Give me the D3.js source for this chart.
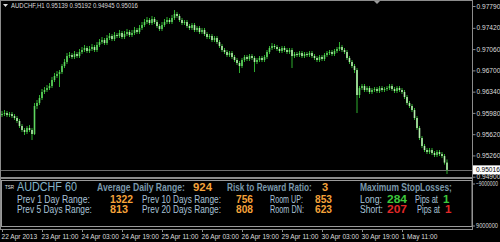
<!DOCTYPE html>
<meta charset="utf-8">
<script src="https://d3js.org/d3.v7.min.js"></script>
<style>
  body { margin: 0; background: #000; }
  svg { display: block; }
  text { font-family: 'Liberation Sans', Arial, sans-serif; }
</style>
<div id="chart"></div>
<script>

// ---------- data: AUDCHF H1, one value per bar, from 22 Apr 2013 19:00 ----------
const opens = [0.95944,0.95961,0.95978,0.95944,0.95961,0.95927,0.95894,0.95843,0.95758,0.95691,
  0.95657,0.95724,0.95691,0.95623,0.96097,0.96148,0.96232,0.96334,0.96368,0.96401,
  0.96435,0.96537,0.96605,0.96638,0.96672,0.96774,0.96842,0.96943,0.96960,0.96927,
  0.96977,0.96943,0.97011,0.97045,0.97079,0.97028,0.97062,0.97096,0.97045,0.97130,
  0.97180,0.97214,0.97163,0.97248,0.97282,0.97231,0.97299,0.97282,0.97333,0.97265,
  0.97316,0.97350,0.97299,0.97333,0.97384,0.97350,0.97418,0.97468,0.97519,0.97553,
  0.97502,0.97570,0.97519,0.97451,0.97401,0.97468,0.97519,0.97553,0.97519,0.97587,
  0.97655,0.97621,0.97553,0.97502,0.97519,0.97451,0.97418,0.97468,0.97384,0.97418,
  0.97350,0.97384,0.97316,0.97265,0.97282,0.97214,0.97248,0.97180,0.97113,0.97045,
  0.97011,0.96960,0.96994,0.96927,0.96876,0.96825,0.96774,0.96876,0.96927,0.96893,
  0.96943,0.96910,0.96842,0.96876,0.96910,0.96876,0.96927,0.97011,0.97079,0.97113,
  0.97096,0.97062,0.97028,0.97079,0.97045,0.97011,0.97045,0.96943,0.96977,0.96960,
  0.96994,0.96943,0.96977,0.96960,0.96994,0.96943,0.96910,0.96876,0.96927,0.96893,
  0.96960,0.96994,0.97011,0.96977,0.97028,0.97062,0.97096,0.97045,0.97011,0.96910,
  0.96842,0.96774,0.96706,0.96283,0.96401,0.96435,0.96368,0.96401,0.96334,0.96368,
  0.96384,0.96351,0.96401,0.96368,0.96384,0.96401,0.96435,0.96384,0.96351,0.96401,
  0.96368,0.96334,0.96249,0.96148,0.96097,0.96029,0.95894,0.95724,0.95555,0.95420,
  0.95352,0.95318,0.95352,0.95301,0.95267,0.95318,0.95284,0.95250,0.95139];
const highs = [0.96012,0.96029,0.96012,0.95995,0.95995,0.95961,0.95927,0.95877,0.95792,0.95724,
  0.95758,0.95775,0.95724,0.96148,0.96199,0.96283,0.96385,0.96418,0.96452,0.96486,
  0.96588,0.96656,0.96689,0.96706,0.96808,0.96893,0.96994,0.97011,0.96994,0.97028,
  0.97011,0.97062,0.97096,0.97130,0.97113,0.97113,0.97147,0.97130,0.97180,0.97231,
  0.97265,0.97248,0.97299,0.97333,0.97316,0.97350,0.97333,0.97384,0.97367,0.97367,
  0.97401,0.97384,0.97384,0.97435,0.97418,0.97468,0.97519,0.97570,0.97604,0.97587,
  0.97621,0.97604,0.97553,0.97485,0.97519,0.97570,0.97604,0.97587,0.97638,0.97722,
  0.97689,0.97655,0.97587,0.97553,0.97553,0.97485,0.97502,0.97502,0.97451,0.97451,
  0.97418,0.97418,0.97350,0.97316,0.97316,0.97282,0.97282,0.97214,0.97147,0.97079,
  0.97045,0.97028,0.97028,0.96960,0.96910,0.96859,0.96910,0.96960,0.96960,0.96977,
  0.96977,0.96943,0.96910,0.96943,0.96943,0.96960,0.97045,0.97113,0.97163,0.97147,
  0.97130,0.97096,0.97113,0.97113,0.97079,0.97079,0.97079,0.97011,0.97011,0.97028,
  0.97028,0.97011,0.97011,0.97028,0.97028,0.96977,0.96943,0.96960,0.96960,0.96994,
  0.97028,0.97045,0.97045,0.97062,0.97096,0.97180,0.97130,0.97079,0.97045,0.96943,
  0.96876,0.96808,0.96740,0.96435,0.96469,0.96469,0.96435,0.96435,0.96401,0.96418,
  0.96418,0.96435,0.96435,0.96418,0.96435,0.96469,0.96469,0.96418,0.96435,0.96435,
  0.96401,0.96368,0.96283,0.96182,0.96131,0.96063,0.95927,0.95758,0.95589,0.95454,
  0.95386,0.95386,0.95386,0.95335,0.95352,0.95352,0.95318,0.95284,0.95192];
const lows = [0.95910,0.95927,0.95910,0.95910,0.95894,0.95860,0.95809,0.95724,0.95657,0.95606,
  0.95623,0.95657,0.95521,0.95606,0.96046,0.96114,0.96199,0.96300,0.96334,0.96368,
  0.96401,0.96503,0.96571,0.96418,0.96638,0.96740,0.96808,0.96910,0.96893,0.96893,
  0.96910,0.96910,0.96977,0.97011,0.96994,0.96994,0.97028,0.97011,0.97011,0.97096,
  0.97147,0.97130,0.97130,0.97214,0.97197,0.97197,0.97248,0.97248,0.97231,0.97231,
  0.97282,0.97265,0.97265,0.97299,0.97316,0.97316,0.97384,0.97435,0.97485,0.97468,
  0.97468,0.97485,0.97418,0.97367,0.97367,0.97435,0.97485,0.97485,0.97485,0.97553,
  0.97587,0.97519,0.97468,0.97468,0.97418,0.97384,0.97384,0.97350,0.97350,0.97316,
  0.97316,0.97282,0.97231,0.97231,0.97180,0.97180,0.97147,0.97079,0.97011,0.96977,
  0.96927,0.96927,0.96893,0.96842,0.96791,0.96655,0.96740,0.96842,0.96859,0.96859,
  0.96876,0.96672,0.96808,0.96842,0.96842,0.96842,0.96893,0.96977,0.97045,0.97062,
  0.97028,0.96994,0.96994,0.97011,0.96977,0.96977,0.96740,0.96910,0.96927,0.96927,
  0.96910,0.96910,0.96927,0.96927,0.96910,0.96876,0.96842,0.96842,0.96859,0.96859,
  0.96927,0.96960,0.96943,0.96943,0.96994,0.97028,0.97011,0.96977,0.96876,0.96808,
  0.96740,0.96655,0.95978,0.96232,0.96368,0.96334,0.96334,0.96300,0.96300,0.96334,
  0.96317,0.96317,0.96334,0.96334,0.96351,0.96368,0.96351,0.96317,0.96317,0.96334,
  0.96300,0.96215,0.96114,0.96063,0.95995,0.95860,0.95691,0.95521,0.95386,0.95318,
  0.95284,0.95284,0.95267,0.95233,0.95233,0.95250,0.95216,0.95105,0.94945];
const closes = [0.95961,0.95978,0.95944,0.95961,0.95927,0.95894,0.95843,0.95758,0.95691,0.95657,
  0.95724,0.95691,0.95623,0.96097,0.96148,0.96232,0.96334,0.96368,0.96401,0.96435,
  0.96537,0.96605,0.96638,0.96672,0.96774,0.96842,0.96943,0.96960,0.96927,0.96977,
  0.96943,0.97011,0.97045,0.97079,0.97028,0.97062,0.97096,0.97045,0.97130,0.97180,
  0.97214,0.97163,0.97248,0.97282,0.97231,0.97299,0.97282,0.97333,0.97265,0.97316,
  0.97350,0.97299,0.97333,0.97384,0.97350,0.97418,0.97468,0.97519,0.97553,0.97502,
  0.97570,0.97519,0.97451,0.97401,0.97468,0.97519,0.97553,0.97519,0.97587,0.97655,
  0.97621,0.97553,0.97502,0.97519,0.97451,0.97418,0.97468,0.97384,0.97418,0.97350,
  0.97384,0.97316,0.97265,0.97282,0.97214,0.97248,0.97180,0.97113,0.97045,0.97011,
  0.96960,0.96994,0.96927,0.96876,0.96825,0.96774,0.96876,0.96927,0.96893,0.96943,
  0.96910,0.96842,0.96876,0.96910,0.96876,0.96927,0.97011,0.97079,0.97113,0.97096,
  0.97062,0.97028,0.97079,0.97045,0.97011,0.97045,0.96943,0.96977,0.96960,0.96994,
  0.96943,0.96977,0.96960,0.96994,0.96943,0.96910,0.96876,0.96927,0.96893,0.96960,
  0.96994,0.97011,0.96977,0.97028,0.97062,0.97096,0.97045,0.97011,0.96910,0.96842,
  0.96774,0.96706,0.96283,0.96401,0.96435,0.96368,0.96401,0.96334,0.96368,0.96384,
  0.96351,0.96401,0.96368,0.96384,0.96401,0.96435,0.96384,0.96351,0.96401,0.96368,
  0.96334,0.96249,0.96148,0.96097,0.96029,0.95894,0.95724,0.95555,0.95420,0.95352,
  0.95318,0.95352,0.95301,0.95267,0.95318,0.95284,0.95250,0.95139,0.95016];

// axis labels
const priceTicks = [0.97790, 0.97420, 0.97060, 0.96700, 0.96340, 0.95980, 0.95620, 0.95260, 0.94900];
const timeTickBars = [0, 16, 32, 48, 64, 80, 96, 112, 128, 144, 160];
const timeTickLabels = ["22 Apr 2013", "23 Apr 11:00", "24 Apr 03:00", "24 Apr 19:00", "25 Apr 11:00",
  "26 Apr 03:00", "26 Apr 19:00", "29 Apr 11:00", "30 Apr 03:00", "30 Apr 19:00", "1 May 11:00"];
const indicatorTicks = [-9000000, 9000000];

// TSR panel values
const symbol = "AUDCHF", period = 60, timeframe = "H1";
const avgDailyRange = 924, riskReward = 3;
const rangeLabels = ["Prev 1 Day Range:", "Prev 5 Days Range:", "Prev 10 Days Range:", "Prev 20 Days Range:"];
const rangeValues = [1322, 813, 756, 808];
const roomLabels = ["Room UP:", "Room DN:"];
const roomValues = [853, 623];
const stopLabels = ["Long:", "Short:"];
const stopValues = [284, 207];
const stopPipsAt = [1, 1];

// ---------- layout ----------
const W = 500, H = 242;
const axisX = 472, mainBottom = 177, indBottom = 229;
const frame = "#8c8c8c", labelColor = "#dcdcdc";

const svg = d3.select("#chart").append("svg")
  .attr("width", W).attr("height", H)
  .style("background", "#000");

const x = d3.scaleLinear().domain([-0.8, 188]).range([0, axisX]);
const y = d3.scaleLinear().domain([0.94900, 0.97790]).range([176.7, 6]);

// text squeezed horizontally to a given width (the MT4 font is narrow)
function put(g, tx, ty, str, color, size, bold, len) {
  const t = g.append("text").attr("x", 0).attr("y", 0)
    .attr("fill", color).attr("font-size", size)
    .attr("font-weight", bold ? "bold" : "normal").text(str);
  const sx = len ? len / t.node().getComputedTextLength() : 1;
  t.attr("transform", `translate(${tx},${ty}) scale(${sx},1)`);
  return t;
}

// clip for price pane
svg.append("clipPath").attr("id", "mainClip")
  .append("rect").attr("x", 1).attr("y", 1).attr("width", axisX - 1).attr("height", mainBottom - 1);

// ---------- candles ----------
const n = closes.length;
const bars = svg.append("g").attr("clip-path", "url(#mainClip)");

// current price line
const last = closes[n - 1];
bars.append("line")
  .attr("x1", 0).attr("x2", axisX)
  .attr("y1", Math.round(y(last)) + 0.5).attr("y2", Math.round(y(last)) + 0.5)
  .attr("stroke", "#6e6e6e");

const idx = d3.range(n);
bars.selectAll("line.wick").data(idx).enter().append("line")
  .attr("class", "wick")
  .attr("x1", i => x(i)).attr("x2", i => x(i))
  .attr("y1", i => y(highs[i])).attr("y2", i => y(lows[i]))
  .attr("stroke", "#2fae2f").attr("stroke-width", 1);

bars.selectAll("rect.body").data(idx).enter().append("rect")
  .attr("class", "body")
  .attr("x", i => x(i) - 0.8).attr("width", 1.6)
  .attr("y", i => y(Math.max(opens[i], closes[i])))
  .attr("height", i => Math.max(0.8, Math.abs(y(opens[i]) - y(closes[i]))))
  .attr("fill", i => closes[i] >= opens[i] ? "#5fd65f" : "#b4f0ac");

// ---------- frames ----------
svg.append("line").attr("x1", 0).attr("x2", axisX).attr("y1", 0.5).attr("y2", 0.5).attr("stroke", frame);
svg.append("line").attr("x1", 0.5).attr("x2", 0.5).attr("y1", 0).attr("y2", indBottom).attr("stroke", frame);
svg.append("rect").attr("x", 0).attr("y", mainBottom).attr("width", axisX).attr("height", 2).attr("fill", frame);

// shift marker
svg.append("path").attr("d", "M374,1 L380,1 L377,4 Z").attr("fill", "#9a9a9a");

// ---------- price axis ----------
const yAxis = svg.append("g")
  .attr("transform", `translate(${axisX + 0.5},0)`)
  .call(d3.axisRight(y).tickValues(priceTicks).tickFormat(d3.format(".5f")).tickSize(3).tickPadding(1));
yAxis.select(".domain").remove();
yAxis.selectAll("line").attr("stroke", frame);
yAxis.selectAll("text").attr("fill", labelColor).attr("font-size", 6.6).attr("font-family", "'Liberation Sans', Arial, sans-serif");

svg.append("line").attr("x1", axisX + 0.5).attr("x2", axisX + 0.5).attr("y1", 0).attr("y2", indBottom).attr("stroke", frame);

// current price tag
svg.append("rect").attr("x", axisX + 1).attr("y", y(last) - 4.5).attr("width", W - axisX - 1).attr("height", 9).attr("fill", "#fff");
svg.append("text").attr("x", axisX + 4).attr("y", y(last)).attr("dy", "0.33em")
  .attr("font-size", 6.6).attr("fill", "#000").text(d3.format(".5f")(last));

// header
svg.append("path").attr("d", "M3,4 L8,4 L5.5,7 Z").attr("fill", labelColor);
put(svg, 11, 8.3, `${symbol},${timeframe} ` + [opens[n - 1], highs[n - 1], lows[n - 1], closes[n - 1]].map(d3.format(".5f")).join(" "),
  labelColor, 6.6, false, 127);

// ---------- indicator pane ----------
const yi = d3.scaleLinear().domain([-9000000, 9000000]).range([184, 226]);
const iAxis = svg.append("g");
indicatorTicks.forEach(v => {
  iAxis.append("line").attr("x1", axisX).attr("x2", axisX + 3)
    .attr("y1", yi(v)).attr("y2", yi(v)).attr("stroke", frame);
  put(iAxis, axisX + 4, yi(v) + 2.3, d3.format("d")(v), labelColor, 6.6, false, 22);
});

// panel box
svg.append("rect").attr("x", 1.5).attr("y", 180.5).attr("width", axisX - 1.5).attr("height", 46)
  .attr("fill", "none").attr("stroke", "#9a9a9a");

// ---------- time axis ----------
svg.append("line").attr("x1", 0).attr("x2", axisX + 1).attr("y1", indBottom + 0.5).attr("y2", indBottom + 0.5).attr("stroke", frame);
const xAxis = svg.append("g")
  .attr("transform", `translate(0,${indBottom})`)
  .call(d3.axisBottom(x).tickValues(timeTickBars).tickFormat((d, i) => timeTickLabels[i]).tickSize(3).tickPadding(2));
xAxis.select(".domain").remove();
xAxis.selectAll("line").attr("stroke", frame);
xAxis.selectAll("text").attr("fill", labelColor).attr("font-size", 6.6)
  .attr("text-anchor", "start").attr("dx", -1)
  .attr("font-family", "'Liberation Sans', Arial, sans-serif");

// ---------- TSR panel text ----------
const cTitle = "#86b4c8", cHead = "#7b98ab", cLabel = "#a9c3d9", cOrange = "#f5a33a", cGreen = "#3cc83c", cRed = "#e02828";
const panel = svg.append("g");
const r1 = 190.5, r2 = 202.5, r3 = 212.5;
put(panel, 5, 188.5, "TSR", "#e8e8e8", 6, false, 9);
put(panel, 17, r1, `${symbol} ${period}`, cTitle, 13, false, 60);
put(panel, 97, r1, "Average Daily Range:", cHead, 10, true, 88);
put(panel, 193, r1, avgDailyRange, cOrange, 11, true, 19);
put(panel, 227, r1, "Risk to Reward Ratio:", cHead, 10, true, 85);
put(panel, 322, r1, riskReward, cOrange, 11, true);
put(panel, 360, r1, "Maximum StopLosses;", cHead, 10, true, 92);

[r2, r3].forEach((ry, k) => {
  put(panel, 17, ry, rangeLabels[k], cLabel, 10, false, k ? 75 : 73);
  put(panel, 110, ry + 0.5, rangeValues[k], cOrange, 11.5, true, k ? 18 : 23);
  put(panel, 142, ry, rangeLabels[k + 2], cLabel, 10, false, 79);
  put(panel, 236, ry + 0.5, rangeValues[k + 2], cOrange, 11.5, true, 17);
  put(panel, 270, ry, roomLabels[k], cLabel, 10, false, k ? 34 : 33);
  put(panel, 315, ry + 0.5, roomValues[k], cOrange, 11.5, true, 17);
  const c = k ? cRed : cGreen;
  put(panel, 360, ry, stopLabels[k], cLabel, 10, false, k ? 23 : 22);
  put(panel, 387, ry + 0.5, stopValues[k], c, 11.5, true, 20);
  put(panel, k ? 417 : 415, ry, "Pips at", cLabel, 10, false, 23);
  put(panel, k ? 445 : 443, ry + 0.5, stopPipsAt[k], c, 11.5, true);
});
</script>
